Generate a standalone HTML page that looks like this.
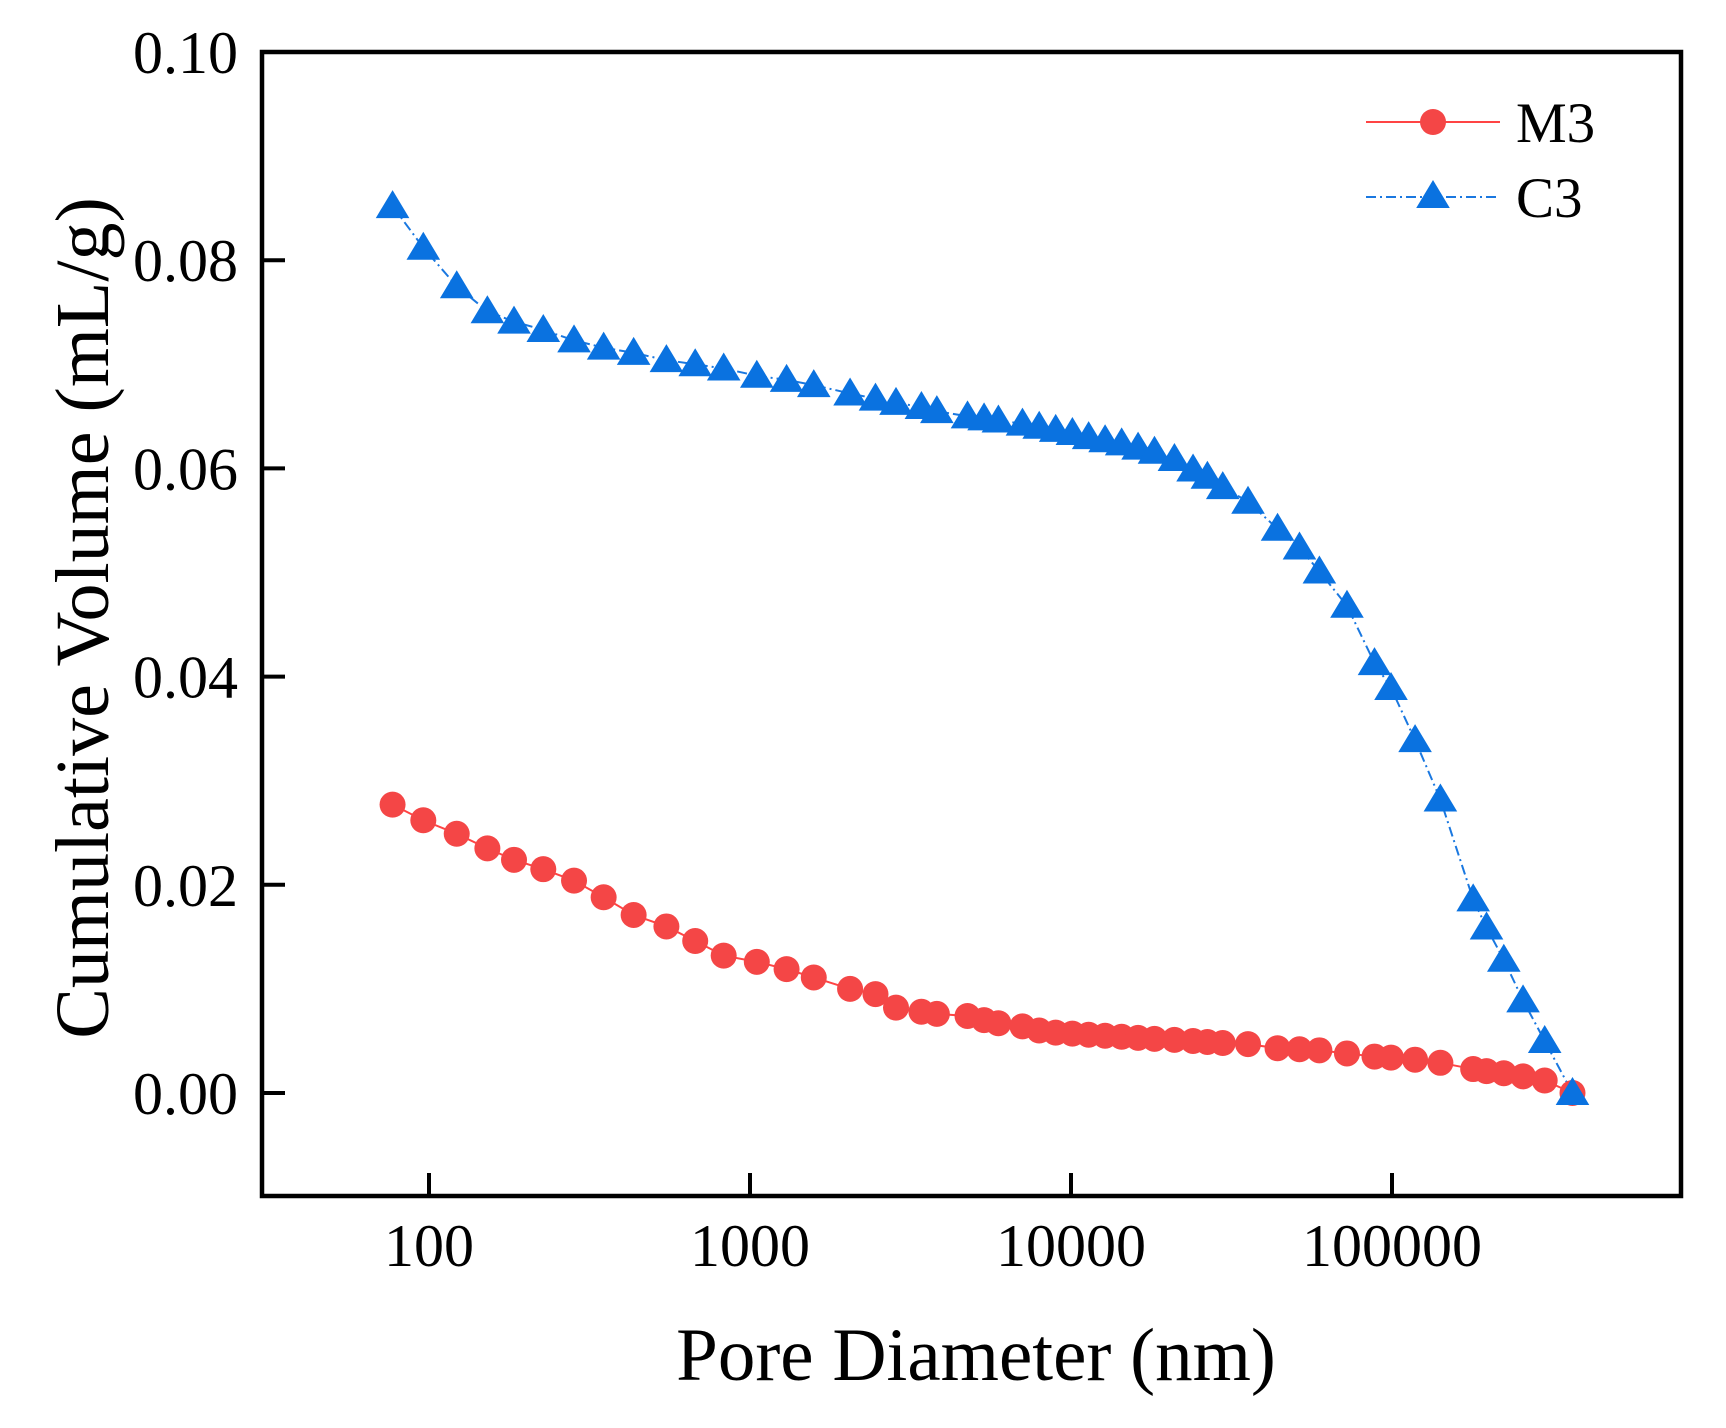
<!DOCTYPE html>
<html><head><meta charset="utf-8"><style>
html,body{margin:0;padding:0;background:#fff}
svg{display:block}
text{font-family:"Liberation Serif",serif;fill:#000}
</style></head><body>
<svg id="chart" width="1726" height="1428" viewBox="0 0 1726 1428" xmlns="http://www.w3.org/2000/svg">
<g id="plot"></g>
</svg>
<script>
const diameters=[77,96,122,152,184,227,283,350,434,549,675,828,1050,1300,1580,2050,2460,2850,3420,3820,4760,5360,5940,7060,7960,8960,10100,11350,12770,14380,16180,18200,21000,24000,26600,29700,35600,44000,51500,59400,72400,88200,99300,118000,141500,179000,197000,223000,256000,299000,365000];
const c3Values=[0.0852,0.0812,0.0775,0.0751,0.0741,0.0733,0.0723,0.0716,0.0711,0.0704,0.0700,0.0696,0.0689,0.0685,0.0680,0.0672,0.0667,0.0663,0.0659,0.0655,0.0650,0.0648,0.0646,0.0643,0.0640,0.0637,0.0634,0.0630,0.0627,0.0624,0.0620,0.0616,0.0609,0.0599,0.0592,0.0582,0.0568,0.0542,0.0524,0.0501,0.0468,0.0413,0.0389,0.0339,0.0282,0.0186,0.0159,0.0128,0.0089,0.0050,0.0];
const m3Values=[0.0277,0.0262,0.0249,0.0235,0.0224,0.0215,0.0204,0.0188,0.0171,0.0160,0.0146,0.0132,0.0126,0.0119,0.0111,0.0100,0.0095,0.0082,0.0078,0.0076,0.0074,0.0070,0.0067,0.0064,0.0060,0.0058,0.0057,0.0056,0.0055,0.0054,0.0053,0.0052,0.0051,0.0050,0.0049,0.0048,0.0047,0.0043,0.0042,0.0041,0.0038,0.0035,0.0034,0.0032,0.0029,0.0023,0.0021,0.0019,0.0016,0.0012,0.0];
const xTicks=[100,1000,10000,100000];
const xTickLabels=["100","1000","10000","100000"];
const yTicks=[0,0.02,0.04,0.06,0.08,0.10];
const yTickLabels=["0.00","0.02","0.04","0.06","0.08","0.10"];

const L=262,R=1681,T=52,B=1196;
function xs(v){return 429+(Math.log10(v)-2)*321;}
function ys(v){return 1093-v*10410;}
const NS="http://www.w3.org/2000/svg";
const g=document.getElementById('plot');
function mk(tag,attrs,parent){const e=document.createElementNS(NS,tag);for(const k in attrs)e.setAttribute(k,attrs[k]);(parent||g).appendChild(e);return e;}

const mLine=mk('polyline',{points:diameters.map((d,i)=>xs(d)+','+ys(m3Values[i])).join(' '),fill:'none',stroke:'#f44',"stroke-width":2});


const cLine=mk('polyline',{points:diameters.map((d,i)=>xs(d)+','+ys(c3Values[i])).join(' '),fill:'none',stroke:'#1a78e0',"stroke-width":2,"stroke-dasharray":"10,4,2,4"});



function tri(cx,cy,s){return (cx)+','+(cy-s)+' '+(cx-s*1.05)+','+(cy+s*0.75)+' '+(cx+s*1.05)+','+(cy+s*0.75);}
diameters.forEach((d,i)=>{
  const c=mk('circle',{cx:xs(d),cy:ys(m3Values[i]),r:13,fill:'#f44646'});
  
  
});
diameters.forEach((d,i)=>{
  const p=mk('polygon',{points:tri(xs(d),ys(c3Values[i]),16),fill:'#0a72e0'});
  
  
});

const fr=mk('rect',{x:L,y:T,width:R-L,height:B-T,fill:'none',stroke:'#000',"stroke-width":4.5});



xTicks.forEach((v,i)=>{
  const t=mk('line',{x1:xs(v),x2:xs(v),y1:B,y2:B-23,stroke:'#000',"stroke-width":4});
  
  
  const tx=mk('text',{x:xs(v),y:1266,"text-anchor":"middle","font-size":60});
  tx.textContent=xTickLabels[i];
  
  
});
yTicks.forEach((v,i)=>{
  const t=mk('line',{x1:L,x2:L+23,y1:ys(v),y2:ys(v),stroke:'#000',"stroke-width":4});
  
  
  const tx=mk('text',{x:238,y:ys(v)+21,"text-anchor":"end","font-size":60});
  tx.textContent=yTickLabels[i];
  
  
});

const xt=mk('text',{x:976,y:1380,"text-anchor":"middle","font-size":75});
xt.textContent='Pore Diameter (nm)';


const yt=mk('text',{x:0,y:0,"text-anchor":"middle","font-size":76,transform:'translate(108,618) rotate(-90)'});
yt.textContent='Cumulative Volume (mL/g)';



const lg=mk('g',{});


const l1=mk('line',{x1:1366,x2:1500,y1:122,y2:122,stroke:'#f44',"stroke-width":2},lg);


const c1=mk('circle',{cx:1433,cy:122,r:13,fill:'#f44646'},lg);


const t1=mk('text',{x:1516,y:142,"font-size":57},lg);
t1.textContent='M3';


const l2=mk('line',{x1:1366,x2:1500,y1:197,y2:197,stroke:'#1a78e0',"stroke-width":2,"stroke-dasharray":"10,4,2,4"},lg);


const p2=mk('polygon',{points:tri(1433,196,16),fill:'#0a72e0'},lg);


const t2=mk('text',{x:1516,y:217,"font-size":57},lg);
t2.textContent='C3';


</script>
</body></html>
